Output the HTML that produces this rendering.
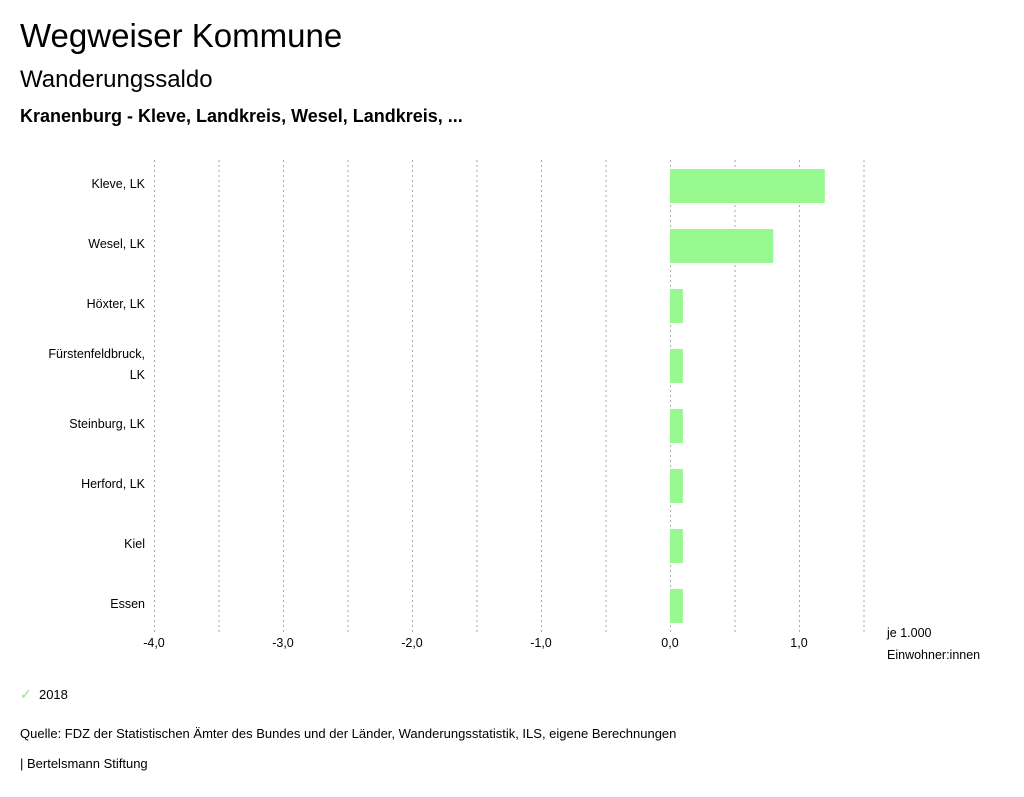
<!DOCTYPE html>
<html><head><meta charset="utf-8"><style>
body{margin:0;width:1024px;height:797px;background:#fff;font-family:"Liberation Sans",sans-serif;overflow:hidden;position:relative}
.t{position:absolute;white-space:nowrap;color:#000}
</style></head><body>
<div class="t" style="left:20px;top:17px;font-size:33px">Wegweiser Kommune</div>
<div class="t" style="left:20px;top:66px;font-size:24px">Wanderungssaldo</div>
<div class="t" style="left:20px;top:106px;font-size:18px;font-weight:bold">Kranenburg - Kleve, Landkreis, Wesel, Landkreis, ...</div>
<svg id="chart" width="1024" height="680" style="position:absolute;left:0;top:0" font-family="Liberation Sans, sans-serif" font-size="12.5"></svg>
<div class="t" style="left:20px;top:686px;font-size:13px"><span style="color:#8ee88a;font-size:14px">✓</span>&nbsp;&nbsp;2018</div>
<div class="t" style="left:20px;top:726px;font-size:13px">Quelle: FDZ der Statistischen Ämter des Bundes und der Länder, Wanderungsstatistik, ILS, eigene Berechnungen</div>
<div class="t" style="left:20px;top:756px;font-size:13px">| Bertelsmann Stiftung</div>
<script>
const categories=[["Kleve, LK"],["Wesel, LK"],["Höxter, LK"],["Fürstenfeldbruck,","LK"],["Steinburg, LK"],["Herford, LK"],["Kiel"],["Essen"]];
const values2018=[1.2,0.8,0.1,0.1,0.1,0.1,0.1,0.1];
const tickValues=[-4,-3,-2,-1,0,1];
const tickLabels=["-4,0","-3,0","-2,0","-1,0","0,0","1,0"];
const gridValues=[-4,-3.5,-3,-2.5,-2,-1.5,-1,-0.5,0,0.5,1,1.5];
(function(){
const svg=document.getElementById('chart');
const NS='http://www.w3.org/2000/svg';
const x=v=>670+(v)*129;
const plotTop=160,step=60;
const yc=i=>plotTop+26+i*step;
function mk(t,a){const e=document.createElementNS(NS,t);for(const k in a)e.setAttribute(k,a[k]);svg.appendChild(e);return e;}
gridValues.forEach(g=>{
const l=mk('line',{x1:x(g)+0.5,x2:x(g)+0.5,y1:plotTop,y2:632,stroke:'#aaa','stroke-dasharray':'2,3','stroke-width':1});


});
tickValues.forEach((v,i)=>{
const t=mk('text',{x:x(v),y:647,'text-anchor':'middle'});t.textContent=tickLabels[i];


});
categories.forEach((c,i)=>{
const v=values2018[i];
const r=mk('rect',{x:Math.min(x(0),x(v)),y:yc(i)-17,width:Math.abs(x(v)-x(0)),height:34,fill:'#98f890'});


const t=mk('text',{x:145,y:yc(i)+2-(c.length-1)*10,'text-anchor':'end'});
c.forEach((s,j)=>{const sp=document.createElementNS(NS,'tspan');sp.setAttribute('x',145);if(j)sp.setAttribute('dy',21);sp.textContent=s;t.appendChild(sp);});


});
const u=mk('text',{x:887,y:637});u.textContent='je 1.000';


const u2=mk('text',{x:887,y:659});u2.textContent='Einwohner:innen';


})();
</script>
</body></html>
